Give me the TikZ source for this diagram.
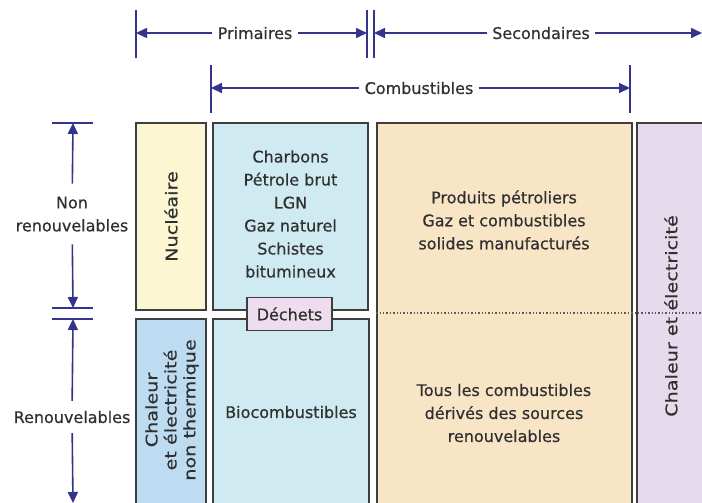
\documentclass[tikz,border=0pt]{standalone}
\usepackage{fontspec}
\setmainfont[FakeBold=0.5]{DejaVu Sans}
\newfontfamily\widefont[FakeStretch=1.2,FakeBold=0.5]{DejaVu Sans}
\usepackage{tikz}
\usetikzlibrary{arrows.meta,positioning}

\definecolor{nuclfill}{HTML}{FCF6D2}
\definecolor{fossfill}{HTML}{CFEAF1}
\definecolor{secfill}{HTML}{F8E5C6}
\definecolor{elecfill}{HTML}{E6DBEC}
\definecolor{renfill}{HTML}{BDDCF2}
\definecolor{dechfill}{HTML}{EEDDEE}
\definecolor{edge}{HTML}{3E3E3E}
\definecolor{ink}{HTML}{303030}
\definecolor{dimcol}{HTML}{34348C}

\begin{document}
\begin{tikzpicture}[x=1pt,y=1pt,
  box/.style={draw=edge,line width=1.8pt,inner sep=0pt},
  lbl/.style={text=ink,font=\fontsize{16}{23}\selectfont,align=center,inner sep=0pt},
  vlbl/.style={lbl,rotate=90,font=\fontsize{16}{19}\widefont},
  dimlbl/.style={lbl,inner sep=5pt},
  tick/.style={draw=dimcol,line width=1.6pt},
  dimarr/.style={draw=dimcol,line width=1.6pt,-{Triangle[length=11pt,width=10pt]}}]
\useasboundingbox (0,0) rectangle (702,-503);
\clip (0,0) rectangle (702,-503);
\fill[white] (0,0) rectangle (702,-503);

% top dimensions
\coordinate (p1) at (136,-33);
\coordinate (p2) at (367,-33);
\coordinate (s1) at (374,-33);
\coordinate (s2) at (702,-33);
\coordinate (c1) at (211,-88);
\coordinate (c2) at (630,-88);
\draw[tick] (136,-10) -- (136,-58);
\draw[tick] (367,-10) -- (367,-58);
\draw[tick] (374,-10) -- (374,-58);
\draw[tick] (211,-65) -- (211,-113);
\draw[tick] (630,-65) -- (630,-113);
\node[dimlbl] (prim) at (255,-33) {Primaires};
\node[dimlbl] (sec) at (541,-33) {Secondaires};
\node[dimlbl] (comb) at (419,-88) {Combustibles};
\draw[dimarr] (prim) -- (p1);
\draw[dimarr] (prim) -- (p2);
\draw[dimarr] (sec) -- (s1);
\draw[dimarr] (sec) -- (s2);
\draw[dimarr] (comb) -- (c1);
\draw[dimarr] (comb) -- (c2);

% left dimensions
\coordinate (n1) at (73,-123);
\coordinate (n2) at (73,-308);
\coordinate (r1) at (73,-319);
\coordinate (r2) at (73,-503);
\draw[tick] (52,-123) -- (93,-123);
\draw[tick] (52,-308) -- (93,-308);
\draw[tick] (52,-319) -- (93,-319);
\node[lbl,outer ysep=13pt,text depth=0pt] (nonren) at (72,-214) {Non\\renouvelables};
\node[lbl,outer ysep=10pt] (ren) at (72,-417) {Renouvelables};
\draw[dimarr] (nonren) -- (n1);
\draw[dimarr] (nonren) -- (n2);
\draw[dimarr] (ren) -- (r1);
\draw[dimarr] (ren) -- (r2);

% boxes
\node[box,fill=nuclfill,minimum width=70pt,minimum height=187pt] (nuc) at (171,-216.5) {};
\node[box,fill=fossfill,minimum width=155pt,minimum height=187pt] (foss) at (290.5,-216.5) {};
\node[box,fill=secfill,minimum width=255pt,minimum height=437pt] (secb) at (504.5,-341.5) {};
\node[box,fill=elecfill,minimum width=83pt,minimum height=437pt] (elec) at (678.5,-341.5) {};
\node[box,fill=renfill,minimum width=70pt,minimum height=241pt] (renb) at (171,-439.5) {};
\node[box,fill=fossfill,minimum width=156pt,minimum height=241pt] (bio) at (291,-439.5) {};
\node[box,fill=dechfill,minimum width=85pt,minimum height=33pt,lbl,draw=edge,line width=1.8pt] (dech) at (289.5,-314) {Déchets};
\draw[edge!85,line width=1.4pt,dotted] (secb.west |- 0,-313) -- (702,-313);

% texts
\node[vlbl] at (nuc) {Nucléaire};
\node[lbl] at (290.5,-214) {Charbons\\Pétrole brut\\LGN\\Gaz naturel\\Schistes\\bitumineux};
\node[lbl] at (504,-220) {Produits pétroliers\\Gaz et combustibles\\solides manufacturés};
\node[lbl] at (504,-413) {Tous les combustibles\\dérivés des sources\\renouvelables};
\node[vlbl] at (671,-316) {Chaleur et électricité};
\node[vlbl] at (172,-410) {Chaleur\\et électricité\\non thermique};
\node[lbl] at (291,-412) {Biocombustibles};
\end{tikzpicture}
\end{document}
